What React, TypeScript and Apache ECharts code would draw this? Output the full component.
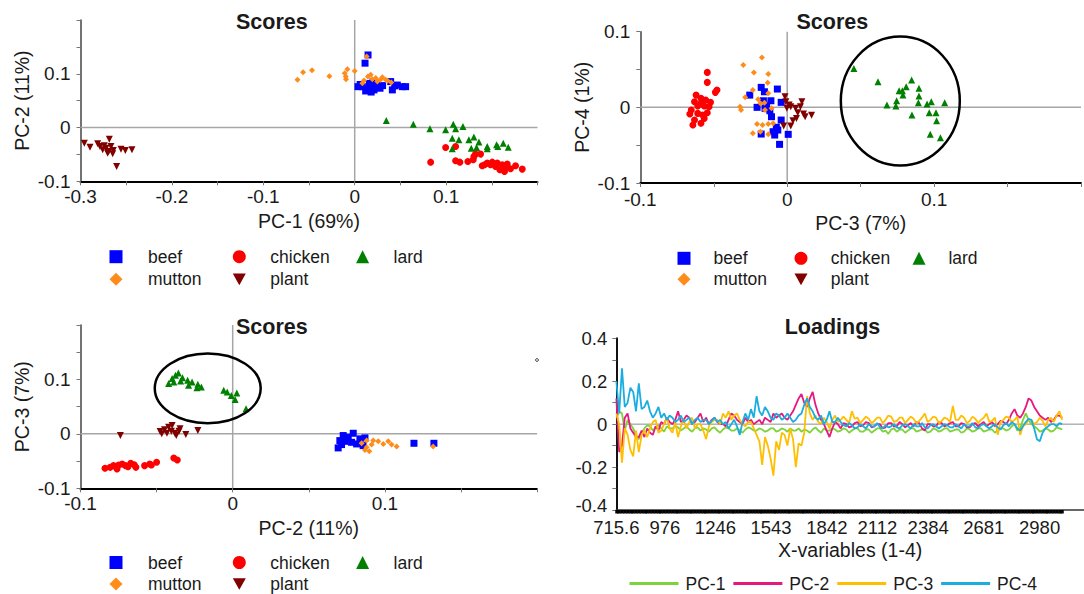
import { useEffect, useRef } from "react";
import * as echarts from "echarts";

const FONT = "'Liberation Sans', Arial, Helvetica, sans-serif";
const TXT = "#1a1a1a";

// ---------- Scores: PC-1 (x) vs PC-2 (y) ----------
const s12Beef = [[0.0146,0.135],[0.0113,0.1197],[0.0036,0.076],[0.0084,0.076],[0.0139,0.0714],[0.0175,0.076],[0.0211,0.070],[0.0248,0.0793],[0.0277,0.0731],[0.016,0.082],[0.02,0.085],[0.012,0.068],[0.0305,0.078],[0.0393,0.0855],[0.0412,0.070],[0.0466,0.079],[0.0521,0.076],[0.0557,0.076],[0.0437,0.0775],[0.018,0.066],[0.025,0.084],[0.006,0.08]];
const s12Chicken = [[0.0995,-0.0372],[0.1104,-0.0353],[0.0831,-0.0644],[0.1104,-0.0619],[0.1151,-0.0644],[0.1238,-0.0632],[0.1304,-0.0539],[0.1322,-0.0494],[0.1377,-0.0494],[0.1297,-0.06],[0.1395,-0.0712],[0.145,-0.0662],[0.1486,-0.0693],[0.1505,-0.0644],[0.1541,-0.0725],[0.1588,-0.0786],[0.1614,-0.0693],[0.165,-0.0743],[0.1669,-0.068],[0.1639,-0.0818],[0.1705,-0.0768],[0.176,-0.0712],[0.1833,-0.0773],[0.1421,-0.0693],[0.156,-0.0662]];
const s12Lard = [[0.0346,0.013],[0.0641,0.0063],[0.0823,-0.0024],[0.0995,-0.0043],[0.1078,0.0063],[0.1104,-0.0024],[0.1184,0.0019],[0.1067,-0.0197],[0.114,-0.0229],[0.1067,-0.0396],[0.1249,-0.0229],[0.1304,-0.0178],[0.1359,-0.0271],[0.1275,-0.0383],[0.1333,-0.0372],[0.145,-0.0353],[0.145,-0.0395],[0.1552,-0.0322],[0.1625,-0.029],[0.168,-0.0365],[0.1566,-0.0353]];
const s12Mutton = [[-0.0626,0.0887],[-0.0565,0.103],[-0.0467,0.1067],[-0.0277,0.0955],[-0.0098,0.0948],[-0.0109,0.101],[-0.008,0.1085],[-0.0095,0.09],[0.0,0.105],[0.0131,0.132],[0.0175,0.098],[0.0102,0.0874],[0.023,0.092],[0.0303,0.0937],[0.0339,0.0887],[0.04,0.0837],[0.0084,0.0825],[0.0248,0.0855],[0.0193,0.09],[0.0145,0.095],[0.028,0.089],[0.036,0.087]];
const s12Plant = [[-0.2958,-0.029],[-0.2896,-0.0365],[-0.2812,-0.0303],[-0.2787,-0.0353],[-0.2757,-0.0414],[-0.2721,-0.0384],[-0.2685,-0.0216],[-0.2692,-0.0446],[-0.2667,-0.0353],[-0.2641,-0.0427],[-0.2605,-0.0725],[-0.2557,-0.0402],[-0.251,-0.0427],[-0.2437,-0.0414],[-0.274,-0.034],[-0.2703,-0.0476],[-0.2648,-0.0489]];

// ---------- Scores: PC-3 (x) vs PC-4 (y) ----------
const s34Beef = [[-0.0177,0.0264],[-0.0067,0.0242],[-0.0255,0.0162],[-0.0155,0.0206],[-0.0111,0.0087],[-0.0162,0.0087],[-0.0041,0.0066],[-0.0205,0],[-0.0151,-0.0013],[-0.0107,-0.0124],[-0.0041,-0.0168],[-0.0074,-0.0264],[-0.0064,-0.03],[-0.0096,-0.0322],[-0.0085,-0.0366],[-0.0177,-0.0353],[-0.0052,-0.0489],[0.0007,-0.0357],[-0.0118,-0.0045],[-0.014,0.003]];
const s34Chicken = [[-0.0544,0.0462],[-0.0544,0.033],[-0.0478,0.0229],[-0.0489,0.0198],[-0.062,0.0162],[-0.0587,0.0119],[-0.0555,0.0096],[-0.0522,0.0066],[-0.0631,0.0074],[-0.0609,0.0017],[-0.0565,0.0017],[-0.0653,-0.0036],[-0.0663,-0.0089],[-0.0609,-0.008],[-0.0576,-0.0102],[-0.0544,-0.0071],[-0.0631,-0.0168],[-0.0587,-0.0211],[-0.0642,-0.0234],[-0.0565,-0.0146],[-0.0532,0.0008],[-0.0587,0.0053]];
const s34Lard = [[0.0454,0.0515],[0.0618,0.0338],[0.0679,0.003],[0.074,0.0017],[0.0745,0.0087],[0.0762,0.022],[0.0788,0.0162],[0.0784,0.022],[0.081,0.0273],[0.0847,0.0361],[0.0897,0.0251],[0.0897,0.0149],[0.0893,0.0061],[0.0952,0.0044],[0.0981,0.0074],[0.0967,-0.0071],[0.0849,-0.0102],[0.1013,-0.0071],[0.1017,-0.0177],[0.0974,-0.0357],[0.1043,-0.0401],[0.1072,0.0061]];
const s34Mutton = [[-0.0172,0.066],[-0.0299,0.0559],[-0.0227,0.0462],[-0.0129,0.044],[-0.0133,0.0325],[-0.0234,0.0229],[-0.0129,0.0185],[-0.0286,0.0132],[-0.0198,0.0106],[-0.0155,0.0061],[-0.0183,0.0053],[-0.0321,0.0008],[-0.0314,-0.0036],[-0.0151,-0.0036],[-0.0107,-0.0013],[-0.0205,-0.0221],[-0.0168,-0.0234],[-0.0129,-0.0221],[-0.0096,-0.0211],[-0.0234,-0.0343],[-0.0183,-0.0322],[-0.0129,-0.0357]];
const s34Plant = [[-0.0015,0.014],[-0.0009,0.0074],[0.0013,0.003],[0.0024,0.0008],[-0.0002,-0.0013],[0.01,0.0074],[0.009,0.0008],[0.0072,-0.0071],[0.0111,-0.0089],[0.0063,-0.0146],[0.0039,-0.0177],[0.0024,-0.0247],[-0.0024,-0.0247],[0.0166,-0.0106],[0.0122,-0.0124],[0.0057,-0.0013]];

// ---------- Scores: PC-2 (x) vs PC-3 (y) ----------
const s23Beef = [[0.0693,-0.0258],[0.0704,-0.0124],[0.0726,-0.0031],[0.0759,-0.0063],[0.0792,0.0011],[0.0781,-0.0155],[0.0814,-0.0185],[0.0836,-0.0092],[0.0869,-0.0074],[0.0737,-0.0137],[0.1191,-0.0173],[0.1322,-0.0173],[0.0715,-0.0197],[0.0857,-0.0216]];
const s23Chicken = [[-0.0839,-0.0633],[-0.0805,-0.0615],[-0.0783,-0.0584],[-0.0749,-0.0572],[-0.0726,-0.0554],[-0.0704,-0.0584],[-0.067,-0.0541],[-0.0647,-0.0566],[-0.0636,-0.0615],[-0.0579,-0.0584],[-0.0545,-0.0554],[-0.05,-0.0523],[-0.0387,-0.0443],[-0.0364,-0.048],[-0.076,-0.0646],[-0.0688,-0.0603],[-0.0534,-0.0572]];
const s23Lard = [[-0.0421,0.0923],[-0.0398,0.1015],[-0.0376,0.1076],[-0.0357,0.1119],[-0.033,0.1033],[-0.0296,0.0984],[-0.0267,0.0953],[-0.029,0.0892],[-0.0235,0.0849],[-0.0206,0.0861],[-0.0387,0.0953],[-0.0059,0.08],[-0.0036,0.0769],[-0.0009,0.0707],[0.0027,0.075],[0.0016,0.0633],[0.0088,0.0461],[-0.0342,0.0972],[-0.0229,0.091]];
const s23Mutton = [[0.0847,-0.0173],[0.088,-0.0247],[0.0897,-0.0321],[0.0923,-0.0124],[0.0956,-0.0137],[0.0989,-0.0185],[0.1022,-0.0137],[0.1044,-0.0197],[0.1077,-0.0234],[0.088,-0.0124],[0.0913,-0.0197],[0.1317,-0.0234],[0.0869,-0.0295]];
const s23Plant = [[-0.0738,-0.0031],[-0.0477,0.0043],[-0.0448,0.0074],[-0.0421,0.0123],[-0.0403,0.0049],[-0.038,0.0012],[-0.0353,0.0049],[-0.0346,0.0092],[-0.0308,-0.0012],[-0.0229,0.0062],[-0.0432,0.0012],[-0.0398,0.0154],[-0.0371,-0.0031],[-0.0466,0]];

// circled groups: [centre x, centre y, radius x, radius y] in score units
const ellipse34 = [0.077, 0.0083, 0.0405, 0.0852];
const ellipse23 = [-0.0164, 0.0836, 0.0348, 0.064];

// ---------- Loadings ----------
const wavenumbers = [716,731,746,761,776,791,806,821,836,851,866,881,896,911,926,941,956,971,986,1001,1016,1031,1046,1061,1076,1091,1106,1121,1136,1151,1166,1181,1196,1211,1226,1241,1256,1271,1286,1301,1316,1331,1346,1361,1376,1391,1406,1421,1436,1451,1466,1481,1496,1511,1526,1541,1556,1571,1586,1601,1616,1631,1646,1661,1676,1691,1706,1721,1736,1751,1766,1781,1796,1811,1826,1841,1856,1871,1886,1901,1916,1931,1946,1961,1976,1991,2006,2021,2036,2051,2066,2081,2096,2111,2126,2141,2156,2171,2186,2201,2216,2231,2246,2261,2276,2291,2306,2321,2336,2351,2366,2381,2396,2411,2426,2441,2456,2471,2486,2501,2516,2531,2546,2561,2576,2591,2606,2621,2636,2651,2666,2681,2696,2711,2726,2741,2756,2771,2786,2801,2816,2831,2846,2861,2876,2891,2906,2921,2936,2951,2966,2981,2996,3011,3026,3041,3056,3071,3086,3101];
const loadPC1 = [0.03,0.06,0.05,-0.03,0.02,0.0,-0.02,-0.05,-0.07,-0.04,-0.02,-0.005,-0.01,-0.03,-0.015,-0.005,-0.02,-0.035,-0.01,-0.02,-0.02,-0.01,-0.015,-0.03,-0.02,-0.01,-0.025,-0.035,-0.02,-0.015,-0.03,-0.02,-0.025,-0.035,-0.02,-0.015,-0.03,-0.04,-0.025,-0.015,-0.02,-0.03,-0.03,-0.02,-0.03,-0.04,-0.025,-0.015,-0.02,-0.03,-0.03,-0.02,-0.025,-0.035,-0.03,-0.02,-0.02,-0.035,-0.03,-0.02,-0.025,-0.035,-0.02,-0.03,-0.03,-0.02,-0.035,-0.025,-0.03,-0.04,-0.025,-0.015,-0.03,-0.04,-0.02,-0.03,-0.03,-0.02,-0.025,-0.035,-0.03,-0.02,-0.025,-0.04,-0.03,-0.02,-0.02,-0.035,-0.035,-0.025,-0.025,-0.04,-0.03,-0.02,-0.02,-0.035,-0.03,-0.045,-0.025,-0.02,-0.035,-0.025,-0.025,-0.04,-0.03,-0.02,-0.02,-0.035,-0.03,-0.025,-0.025,-0.04,-0.035,-0.02,-0.025,-0.035,-0.03,-0.02,-0.02,-0.035,-0.03,-0.025,-0.025,-0.04,-0.035,-0.02,-0.025,-0.035,-0.03,-0.02,-0.02,-0.035,-0.03,-0.025,-0.025,-0.04,-0.03,-0.02,-0.02,-0.03,-0.025,-0.01,0.0,-0.03,-0.02,0.02,0.05,0.02,0.0,-0.01,-0.02,-0.035,-0.03,-0.02,-0.025,-0.035,-0.03,-0.015,-0.02,-0.025];
const loadPC2 = [0.12,-0.13,-0.1,0.03,0.05,-0.02,-0.04,-0.06,-0.06,-0.03,-0.06,-0.02,-0.04,-0.05,-0.01,-0.03,0.01,0.0,0.03,0.01,0.0,0.02,0.06,0.01,0.02,0.04,0.03,0.0,0.01,0.03,0.05,0.01,0.03,0.0,0.02,0.03,0.01,0.0,0.0,-0.01,0.02,0.05,0.04,0.02,0.01,0.0,0.03,0.01,0.02,0.0,0.01,0.02,0.0,0.03,0.02,0.01,0.05,0.03,0.04,0.05,0.03,0.02,0.04,0.06,0.09,0.12,0.14,0.1,0.08,0.12,0.15,0.09,0.05,0.02,0.0,-0.03,-0.06,-0.02,0.01,0.0,-0.02,0.005,0.0,-0.015,-0.01,0.005,0.01,-0.01,-0.005,0.01,0.005,-0.015,-0.01,0.0,0.0,-0.02,-0.015,0.005,0.005,-0.01,-0.01,0.01,0.0,-0.015,-0.005,0.005,-0.01,0.01,0.005,-0.02,-0.03,0.0,0.0,-0.01,-0.01,0.01,0.005,-0.01,-0.005,0.005,0.01,-0.01,-0.01,0.005,0.0,-0.015,-0.015,0.0,0.005,-0.01,0.0,0.01,-0.01,0.0,0.01,-0.01,0.0,0.015,0.01,0.0,0.02,0.05,0.07,0.04,0.03,0.05,0.08,0.12,0.11,0.08,0.06,0.04,0.03,0.02,0.03,0.01,0.02,0.04,0.04,0.03];
const loadPC3 = [0.05,0.0,-0.18,-0.02,-0.05,-0.12,-0.15,-0.03,-0.13,-0.05,-0.03,-0.06,-0.02,0.01,0.02,-0.04,-0.03,0.0,0.03,-0.02,-0.04,0.01,-0.06,-0.01,0.02,-0.02,0.01,0.03,-0.02,0.0,0.0,-0.03,-0.07,-0.01,0.01,0.02,0.02,0.0,0.05,0.03,0.06,0.02,0.04,0.05,0.02,0.0,-0.01,0.01,0.01,-0.02,-0.05,-0.08,-0.19,-0.06,-0.1,-0.16,-0.24,-0.08,-0.12,-0.04,-0.05,-0.1,-0.02,-0.07,-0.2,-0.09,-0.1,-0.04,0.13,0.05,0.02,0.04,0.01,0.0,0.03,0.01,-0.02,0.02,0.04,0.01,0.02,0.035,0.02,0.005,0.06,0.025,0.03,0.005,0.02,0.035,0.025,0.005,0.015,0.03,0.03,0.005,0.02,0.04,0.035,0.01,0.015,0.03,0.03,0.005,0.02,0.035,0.025,0.005,0.015,0.03,0.05,0.01,0.02,0.035,0.03,0.005,0.015,0.03,0.025,0.01,0.085,0.02,0.02,0.04,0.03,0.005,0.015,0.035,0.025,0.005,0.02,0.03,0.05,0.01,0.015,0.03,-0.05,0.01,0.02,0.035,0.03,0.01,0.02,0.035,-0.05,-0.01,0.0,0.02,0.02,0.0,0.01,0.03,0.015,-0.01,0.02,0.03,0.01,0.04,0.06,0.02];
const loadPC4 = [0.2,0.05,0.26,0.08,0.1,0.17,0.15,0.06,0.19,0.07,0.08,0.11,0.06,0.03,0.05,0.08,0.03,0.05,0.02,0.04,0.03,0.01,0.02,0.04,0.01,0.02,0.03,0.0,0.02,0.03,0.01,0.02,0.02,0.0,0.015,0.03,0.01,0.02,0.0,0.01,-0.02,0.0,0.02,-0.01,-0.05,0.01,0.05,0.02,0.07,0.03,0.13,0.06,0.04,0.08,0.06,0.03,0.02,0.05,0.04,0.02,0.03,0.05,0.03,0.01,0.02,0.04,0.05,0.09,0.12,0.08,0.06,0.03,0.02,0.04,0.0,0.02,0.06,0.01,0.01,0.03,0.01,-0.005,-0.01,0.005,-0.005,-0.02,-0.015,0.0,-0.01,-0.02,0.0,-0.01,-0.01,0.005,-0.015,-0.02,-0.005,-0.015,-0.01,0.0,-0.015,-0.02,-0.005,0.0,-0.01,-0.02,0.0,-0.01,-0.01,0.005,-0.015,-0.02,-0.005,0.0,-0.01,-0.02,-0.01,0.0,-0.005,-0.015,-0.015,0.0,-0.01,-0.02,0.0,-0.01,-0.01,0.005,-0.015,-0.02,-0.005,0.0,-0.01,-0.02,-0.01,0.0,-0.015,-0.025,-0.005,0.005,-0.01,0.01,0.0,-0.02,-0.03,-0.01,0.01,0.025,0.02,-0.02,-0.07,-0.08,-0.04,-0.02,-0.01,0.0,0.0,-0.01,0.005,0.0];
const xTickLabels = [715.6, 976, 1246, 1543, 1842, 2112, 2384, 2681, 2980];

const GROUPS = ["beef", "chicken", "lard", "mutton", "plant"];
const GROUP_COLORS: Record<string, string> = { beef: "#0000ff", chicken: "#ff0000", lard: "#008000", mutton: "#ff8c1a", plant: "#800000" };
const DOWN_TRI = "path://M0,0L10,0L5,9Z";
const GROUP_SYMBOLS: Record<string, string> = { beef: "rect", chicken: "circle", lard: "triangle", mutton: "diamond", plant: DOWN_TRI };
const GROUP_SIZES: Record<string, number> = { beef: 7, chicken: 7, lard: 7, mutton: 6, plant: 7 };
const PC_COLORS = ["#7ed23c", "#e6197e", "#ffbf00", "#1aaee0"];

function tenth(hideAbove: number) {
  return (v: number) => {
    const k = Math.round(v * 10);
    if (Math.abs(v * 10 - k) > 1e-6) return "";
    if (v > hideAbove + 1e-9) return "";
    return k === 0 ? "0" : String(k / 10);
  };
}

const labelStyle = { fontFamily: FONT, fontSize: 19, color: TXT };
const nameStyle = { fontFamily: FONT, fontSize: 19.5, color: TXT };

function sx(gi: number, min: number, max: number, name: string, hideAbove: number, margin: number) {
  return {
    type: "value", gridIndex: gi, min, max, interval: 0.05,
    name, nameLocation: "middle", nameGap: 30, nameTextStyle: nameStyle,
    axisLine: { show: true, onZero: false, lineStyle: { color: "#000", width: 2 } },
    axisTick: { show: true, length: 4, lineStyle: { color: "#777", width: 1 } },
    axisLabel: { ...labelStyle, margin, formatter: tenth(hideAbove) },
    splitLine: { show: false },
  };
}
function sy(gi: number, min: number, max: number, name: string, hideAbove: number, nameGap: number) {
  return {
    type: "value", gridIndex: gi, min, max, interval: 0.05,
    name, nameLocation: "middle", nameGap, nameTextStyle: nameStyle,
    axisLine: { show: true, onZero: false, lineStyle: { color: "#444", width: 1.5 } },
    axisTick: { show: true, length: 4, lineStyle: { color: "#777", width: 1 } },
    axisLabel: { ...labelStyle, margin: 10, formatter: tenth(hideAbove) },
    splitLine: { show: false },
  };
}

function zeroLines(ai: number, x: [number, number], y: [number, number], color = "#a6a6a6", width = 1.5) {
  const base = { type: "line", xAxisIndex: ai, yAxisIndex: ai, symbol: "none", silent: true, z: 1, lineStyle: { color, width }, tooltip: { show: false } };
  return [
    { ...base, name: "_zx" + ai, data: [[0, y[0]], [0, y[1]]] },
    { ...base, name: "_zy" + ai, data: [[x[0], 0], [x[1], 0]] },
  ];
}

function scatterSeries(ai: number, sets: Record<string, number[][]>) {
  return GROUPS.map((g) => ({
    type: "scatter", name: g, xAxisIndex: ai, yAxisIndex: ai, data: sets[g],
    symbol: GROUP_SYMBOLS[g], symbolSize: GROUP_SIZES[g],
    itemStyle: { color: GROUP_COLORS[g], opacity: 1 }, z: 3,
  }));
}

function legendItem(name: string, cx: number, cy: number, textX: number) {
  return {
    show: true, data: [{ name, icon: GROUP_SYMBOLS[name] }], left: cx - 6.5, top: cy - 9, padding: 0,
    itemWidth: 13, itemHeight: 13, itemGap: 0, selectedMode: false,
    textStyle: { fontFamily: FONT, fontSize: 17.5, color: TXT, lineHeight: 18, padding: [0, 0, 0, textX - cx - 11.5] },
  };
}
function legendBlock(xs: number[], txs: number[], r1: number, r2: number) {
  return [
    legendItem("beef", xs[0], r1, txs[0]),
    legendItem("chicken", xs[1], r1, txs[1]),
    legendItem("lard", xs[2], r1, txs[2]),
    legendItem("mutton", xs[0], r2, txs[0]),
    legendItem("plant", xs[1], r2, txs[1]),
  ];
}

export default function App() {
  const ref = useRef<HTMLDivElement>(null);
  useEffect(() => {
    if (!ref.current) return;
    const chart = echarts.init(ref.current, null, { renderer: "svg" });
    const titleStyle = { fontFamily: FONT, fontSize: 21.5, fontWeight: "bold", color: TXT, lineHeight: 22 };
    const loadX = { min: 715.6, max: 3217.5 };
    const option: any = {
      animation: false,
      backgroundColor: "#ffffff",
      title: [
        { text: "Scores", left: 236, top: 10.7, padding: 0, textStyle: titleStyle },
        { text: "Scores", left: 796.5, top: 10.7, padding: 0, textStyle: titleStyle },
        { text: "Scores", left: 236, top: 315.7, padding: 0, textStyle: titleStyle },
        { text: "Loadings", left: 784.7, top: 315.7, padding: 0, textStyle: titleStyle },
      ],
      grid: [
        { left: 80.5, top: 20, width: 457, height: 161.3 },
        { left: 640.3, top: 31.7, width: 458, height: 151.3 },
        { left: 80.5, top: 325, width: 456.6, height: 163.3 },
        { left: 616.3, top: 338.3, width: 467.7, height: 171.7 },
      ],
      xAxis: [
        sx(0, -0.3, 0.2, "PC-1 (69%)", 0.15, 6),
        sx(1, -0.1, 0.2, "PC-3 (7%)", 0.15, 7),
        sx(2, -0.1, 0.2, "PC-2 (11%)", 0.15, 6),
        {
          type: "value", gridIndex: 3, min: loadX.min, max: loadX.max,
          name: "X-variables (1-4)", nameLocation: "middle", nameGap: 30, nameTextStyle: nameStyle,
          axisLine: { show: true, onZero: false, lineStyle: { color: "#333", width: 1.5 } },
          axisTick: { show: true, length: 3.5, customValues: wavenumbers, lineStyle: { color: "#000", width: 3.5 } },
          axisLabel: { ...labelStyle, fontSize: 18.5, margin: 10, lineHeight: 14, customValues: xTickLabels, formatter: (v: number) => String(v) },
          splitLine: { show: false },
        },
      ],
      yAxis: [
        sy(0, -0.1, 0.2, "PC-2 (11%)", 0.15, 49),
        sy(1, -0.1, 0.1, "PC-4 (1%)", 0.1, 48),
        sy(2, -0.1, 0.2, "PC-3 (7%)", 0.15, 49),
        {
          type: "value", gridIndex: 3, min: -0.4, max: 0.4, interval: 0.1,
          axisLine: { show: true, onZero: false, lineStyle: { color: "#111", width: 2 } },
          axisTick: { show: true, length: 4, lineStyle: { color: "#777", width: 1 } },
          axisLabel: {
            ...labelStyle, fontSize: 18.5, margin: 9, lineHeight: 14,
            rich: { lo: { fontFamily: FONT, fontSize: 18.5, color: TXT, lineHeight: 14, padding: [0, 0, 10, 0] } },
            formatter: (v: number) => {
              const k = Math.round(v * 5);
              if (Math.abs(v * 5 - k) > 1e-6) return "";
              if (k === -2) return "{lo|-0.4}";
              return k === 0 ? "0" : String(k / 5);
            },
          },
          splitLine: { show: false },
        },
      ],
      legend: [
        ...legendBlock([116, 239.3, 362.6], [148, 270.3, 393.6], 256.7, 279.3),
        ...legendBlock([684, 801, 919], [713.5, 830.8, 948.4], 258.3, 279.3),
        ...legendBlock([116, 239.3, 362.6], [148, 270.3, 393.6], 562.5, 584),
        {
          show: true,
          data: ["PC-1", "PC-2", "PC-3", "PC-4"].map((n) => ({ name: n, icon: "rect" })),
          left: 629.5, top: 583.5 - 9, padding: 0,
          itemWidth: 49, itemHeight: 3, itemGap: 8, selectedMode: false,
          textStyle: { fontFamily: FONT, fontSize: 17.5, color: TXT, lineHeight: 18, padding: [0, 0, 0, 2] },
        },
      ],
      series: [
        ...zeroLines(0, [-0.3, 0.2], [-0.1, 0.2]),
        ...scatterSeries(0, { beef: s12Beef, chicken: s12Chicken, lard: s12Lard, mutton: s12Mutton, plant: s12Plant }),
        ...zeroLines(1, [-0.1, 0.2], [-0.1, 0.1]),
        ...scatterSeries(1, { beef: s34Beef, chicken: s34Chicken, lard: s34Lard, mutton: s34Mutton, plant: s34Plant }),
        ...zeroLines(2, [-0.1, 0.2], [-0.1, 0.2]),
        ...scatterSeries(2, { beef: s23Beef, chicken: s23Chicken, lard: s23Lard, mutton: s23Mutton, plant: s23Plant }),
        {
          type: "line", name: "_z4", xAxisIndex: 3, yAxisIndex: 3, symbol: "none", silent: true, z: 1,
          lineStyle: { color: "#8c8c8c", width: 1 }, data: [[loadX.min, 0], [loadX.max, 0]],
        },
        ...[loadPC1, loadPC2, loadPC3, loadPC4].map((vals, i) => ({
          type: "line", name: "PC-" + (i + 1), xAxisIndex: 3, yAxisIndex: 3, symbol: "none", z: 2 + i,
          lineStyle: { color: PC_COLORS[i], width: 1.8 }, itemStyle: { color: PC_COLORS[i] },
          data: wavenumbers.map((w, j) => [w, vals[j]]),
        })),
      ],
    };
    chart.setOption(option);

    const ell = (gi: number, e: number[]) => {
      const c = chart.convertToPixel({ gridIndex: gi } as any, [e[0], e[1]]) as number[];
      const p = chart.convertToPixel({ gridIndex: gi } as any, [e[0] + e[2], e[1] + e[3]]) as number[];
      return {
        type: "ellipse", z: 100, silent: true,
        shape: { cx: c[0], cy: c[1], rx: Math.abs(p[0] - c[0]), ry: Math.abs(c[1] - p[1]) },
        style: { fill: "none", stroke: "#000", lineWidth: 2.5 },
      };
    };
    chart.setOption({
      graphic: [
        ell(1, ellipse34),
        ell(2, ellipse23),
        { type: "circle", z: 100, silent: true, shape: { cx: 537, cy: 360, r: 1.4 }, style: { fill: "none", stroke: "#000", lineWidth: 0.8 } },
      ],
    });
    return () => chart.dispose();
  }, []);
  return <div ref={ref} style={{ position: "absolute", left: 0, top: 0, width: 1084, height: 594 }} />;
}
